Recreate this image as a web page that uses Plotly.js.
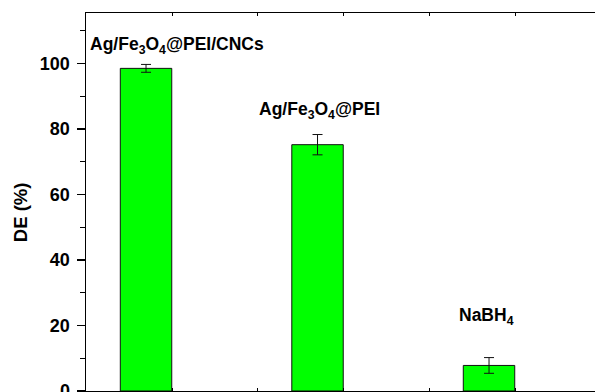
<!DOCTYPE html>
<html>
<head>
<meta charset="utf-8">
<script src="https://cdn.plot.ly/plotly-3.0.1.min.js"></script>
<style>html,body{margin:0;padding:0;background:#fff;}#chart{width:595px;height:392px;}</style>
</head>
<body>
<div id="chart"></div>
<script>
// Data
const categories = ["Ag/Fe<sub>3</sub>O<sub>4</sub>@PEI/CNCs", "Ag/Fe<sub>3</sub>O<sub>4</sub>@PEI", "NaBH<sub>4</sub>"];
const positions = [1, 2, 3];
const deValues = [98.5, 75.2, 7.8];
const deErrors = [1.2, 3.1, 2.4];
const labelY = [105.4, 85.6, 22.6];
const labelShift = [31, 2, -3];
const yTickVals = [0, 20, 40, 60, 80, 100];

const FONT = "Liberation Sans, Arial, Helvetica, sans-serif";

const trace = {
  type: "bar",
  x: positions,
  y: deValues,
  width: 0.3,
  marker: {color: "#00ff00", line: {color: "#111111", width: 1}},
  error_y: {type: "data", array: deErrors, visible: true, color: "#111111", thickness: 1, width: 5},
  hoverinfo: "none"
};

const annotations = categories.map((c, i) => ({
  x: positions[i], y: labelY[i], xref: "x", yref: "y",
  text: c, showarrow: false, xanchor: "center", yanchor: "middle",
  xshift: labelShift[i],
  font: {family: FONT, size: 17.5, color: "#000", weight: "bold"}
}));
annotations.push({
  x: -0.1297, y: 0.473, xref: "paper", yref: "paper",
  text: "DE (%)", textangle: -90, showarrow: false,
  xanchor: "center", yanchor: "middle",
  font: {family: FONT, size: 18.5, color: "#000", weight: "bold"}
});

const layout = {
  width: 595, height: 392,
  margin: {l: 86, r: 0, t: 13, b: 1, pad: 0},
  paper_bgcolor: "#fff", plot_bgcolor: "#fff",
  showlegend: false,
  xaxis: {
    range: [0.65, 3.618], showgrid: false, zeroline: false,
    showline: true, linecolor: "#000", linewidth: 1.5, mirror: "ticks",
    tickmode: "linear", tick0: 1.152, dtick: 0.5,
    ticks: "inside", ticklen: 3, tickcolor: "#000", tickwidth: 1,
    showticklabels: false
  },
  yaxis: {
    range: [0, 115.4], showgrid: false, zeroline: false,
    showline: true, linecolor: "#000", linewidth: 1.5, mirror: false,
    tickmode: "array", tickvals: yTickVals,
    ticks: "outside", ticklen: 8, tickwidth: 1.2, tickcolor: "#000",
    minor: {dtick: 10, tick0: 0, ticks: "outside", ticklen: 5, tickwidth: 1, tickcolor: "#000", showgrid: false},
    tickfont: {family: FONT, size: 18, color: "#000", weight: "bold"},
    ticklabelstandoff: 3,
    ticklabeloverflow: "allow"
  },
  annotations: annotations
};

Plotly.newPlot("chart", [trace], layout, {staticPlot: true, displayModeBar: false});
</script>
</body>
</html>
